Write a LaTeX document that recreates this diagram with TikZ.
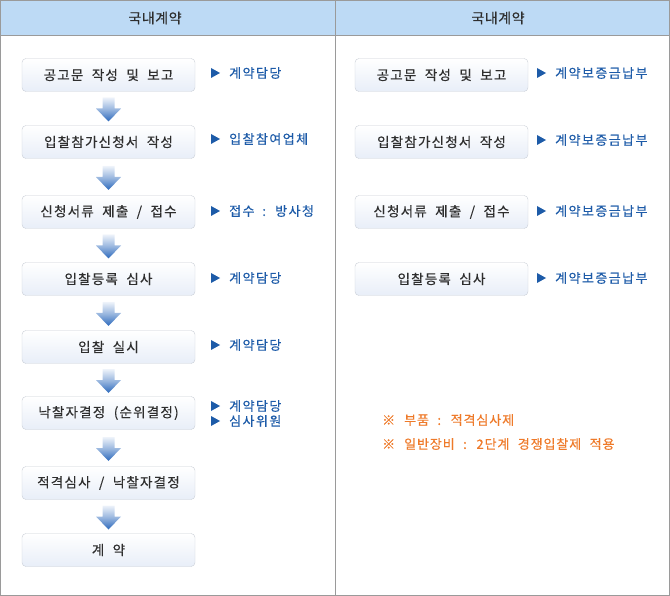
\documentclass[tikz,border=0pt]{standalone}
\usepackage{fontspec}
\setmainfont{Noto Sans CJK KR}
\newfontfamily\boxfont[LetterSpace=9,WordSpace=2.0,FakeBold=0.4]{Noto Sans CJK KR}
\newfontfamily\labfont[LetterSpace=11,WordSpace=1.8,FakeBold=0.4]{Noto Sans CJK KR}
\newfontfamily\notefont[LetterSpace=7,WordSpace=2.2,FakeBold=0.4]{Noto Sans CJK KR}
\newfontfamily\hdrfont[LetterSpace=4,FakeBold=0.4]{Noto Sans CJK KR}
\usetikzlibrary{calc}
\definecolor{hdr}{HTML}{BDDAF5}
\definecolor{frame}{HTML}{9A9A9A}
\definecolor{boxline}{HTML}{C9CED6}
\definecolor{boxbot}{HTML}{E8EEF8}
\definecolor{txt}{HTML}{2E2E2E}
\definecolor{lbl}{HTML}{1D5BA8}
\definecolor{note}{HTML}{EE7A2A}
\definecolor{arrtop}{HTML}{EEF3FA}
\definecolor{arrbot}{HTML}{2C69BC}
\tikzset{
  x=1pt, y=-1pt,
  stepbox/.style={draw=boxline, rounded corners=4pt, top color=white, bottom color=boxbot,
    minimum width=173pt, minimum height=33pt, inner sep=0pt, text=txt,
    font=\boxfont\fontsize{13.5}{15}\selectfont},
  lab/.style={anchor=west, text=lbl, inner sep=0pt,
    font=\labfont\fontsize{13}{15}\selectfont},
  notetxt/.style={anchor=west, text=note, inner sep=0pt,
    font=\notefont\fontsize{13}{15}\selectfont},
  hdrtxt/.style={text=txt, inner sep=0pt,
    font=\hdrfont\fontsize{14}{16}\selectfont},
  downarrow/.pic={
    \shade[top color=arrtop, bottom color=arrbot, middle color=arrtop!55!arrbot]
      (-6,-11) -- (6,-11) -- (6,0) -- (12.5,0) -- (0,13) -- (-12.5,0) -- (-6,0) -- cycle;
  },
  tri/.pic={\fill[lbl] (0,-5) -- (9,0) -- (0,5) -- cycle;}
}
\begin{document}
\begin{tikzpicture}
\useasboundingbox (0,0) rectangle (670,596);
% header
\fill[hdr] (0,0) rectangle (670,35);
\draw[frame] (0.5,0.5) rectangle (669.5,595.5);
\draw[frame] (0.5,35) -- (669.5,35);
\draw[frame] (335,0.5) -- (335,595.5);
\node[hdrtxt] (h1) at (155,18) {국내계약};
\node[hdrtxt] (h2) at (498,18) {국내계약};
% left boxes
\node[stepbox] (a1) at (108.5,75)  {공고문 작성 및 보고};
\node[stepbox] (a2) at (108.5,142) {입찰참가신청서 작성};
\node[stepbox] (a3) at (108.5,212) {신청서류 제출 / 접수};
\node[stepbox] (a4) at (108.5,279) {입찰등록 심사};
\node[stepbox] (a5) at (108.5,347) {입찰 실시};
\node[stepbox] (a6) at (108.5,413) {낙찰자결정 (순위결정)};
\node[stepbox] (a7) at (108.5,483) {적격심사 / 낙찰자결정};
\node[stepbox] (a8) at (108.5,550) {계 약};
\foreach \u/\v in {a1/a2,a2/a3,a3/a4,a4/a5,a5/a6,a6/a7,a7/a8}
  \pic at ($(\u.south)!0.5!(\v.north)$) {downarrow};
% left labels
\pic at (211,73) {tri}; \node[lab] (l1) at (229,73) {계약담당};
\pic at (211,139) {tri}; \node[lab] (l2) at (229,139) {입찰참여업체};
\pic at (211,211) {tri}; \node[lab] (l3) at (229,211) {접수 : 방사청};
\pic at (211,278) {tri}; \node[lab] (l4) at (229,278) {계약담당};
\pic at (211,345) {tri}; \node[lab] (l5) at (229,345) {계약담당};
\pic at (211,406) {tri}; \node[lab] (l6) at (229,406) {계약담당};
\pic at (211,421) {tri}; \node[lab] (l7) at (229,421) {심사위원};
% right boxes
\node[stepbox] (b1) at (441.5,75)  {공고문 작성 및 보고};
\node[stepbox] (b2) at (441.5,142) {입찰참가신청서 작성};
\node[stepbox] (b3) at (441.5,212) {신청서류 제출 / 접수};
\node[stepbox] (b4) at (441.5,279) {입찰등록 심사};
\pic at (537,73) {tri}; \node[lab] (r1) at (555,73) {계약보증금납부};
\pic at (537,140) {tri}; \node[lab] (r2) at (555,140) {계약보증금납부};
\pic at (537,211) {tri}; \node[lab] (r3) at (555,211) {계약보증금납부};
\pic at (537,278) {tri}; \node[lab] (r4) at (555,278) {계약보증금납부};
% notes
\node[notetxt] (n1) at (382,420) {※\hspace{9pt}부품 : 적격심사제};
\node[notetxt] (n2) at (382,444) {※\hspace{9pt}일반장비 : 2단계 경쟁입찰제 적용};
\end{tikzpicture}
\end{document}
